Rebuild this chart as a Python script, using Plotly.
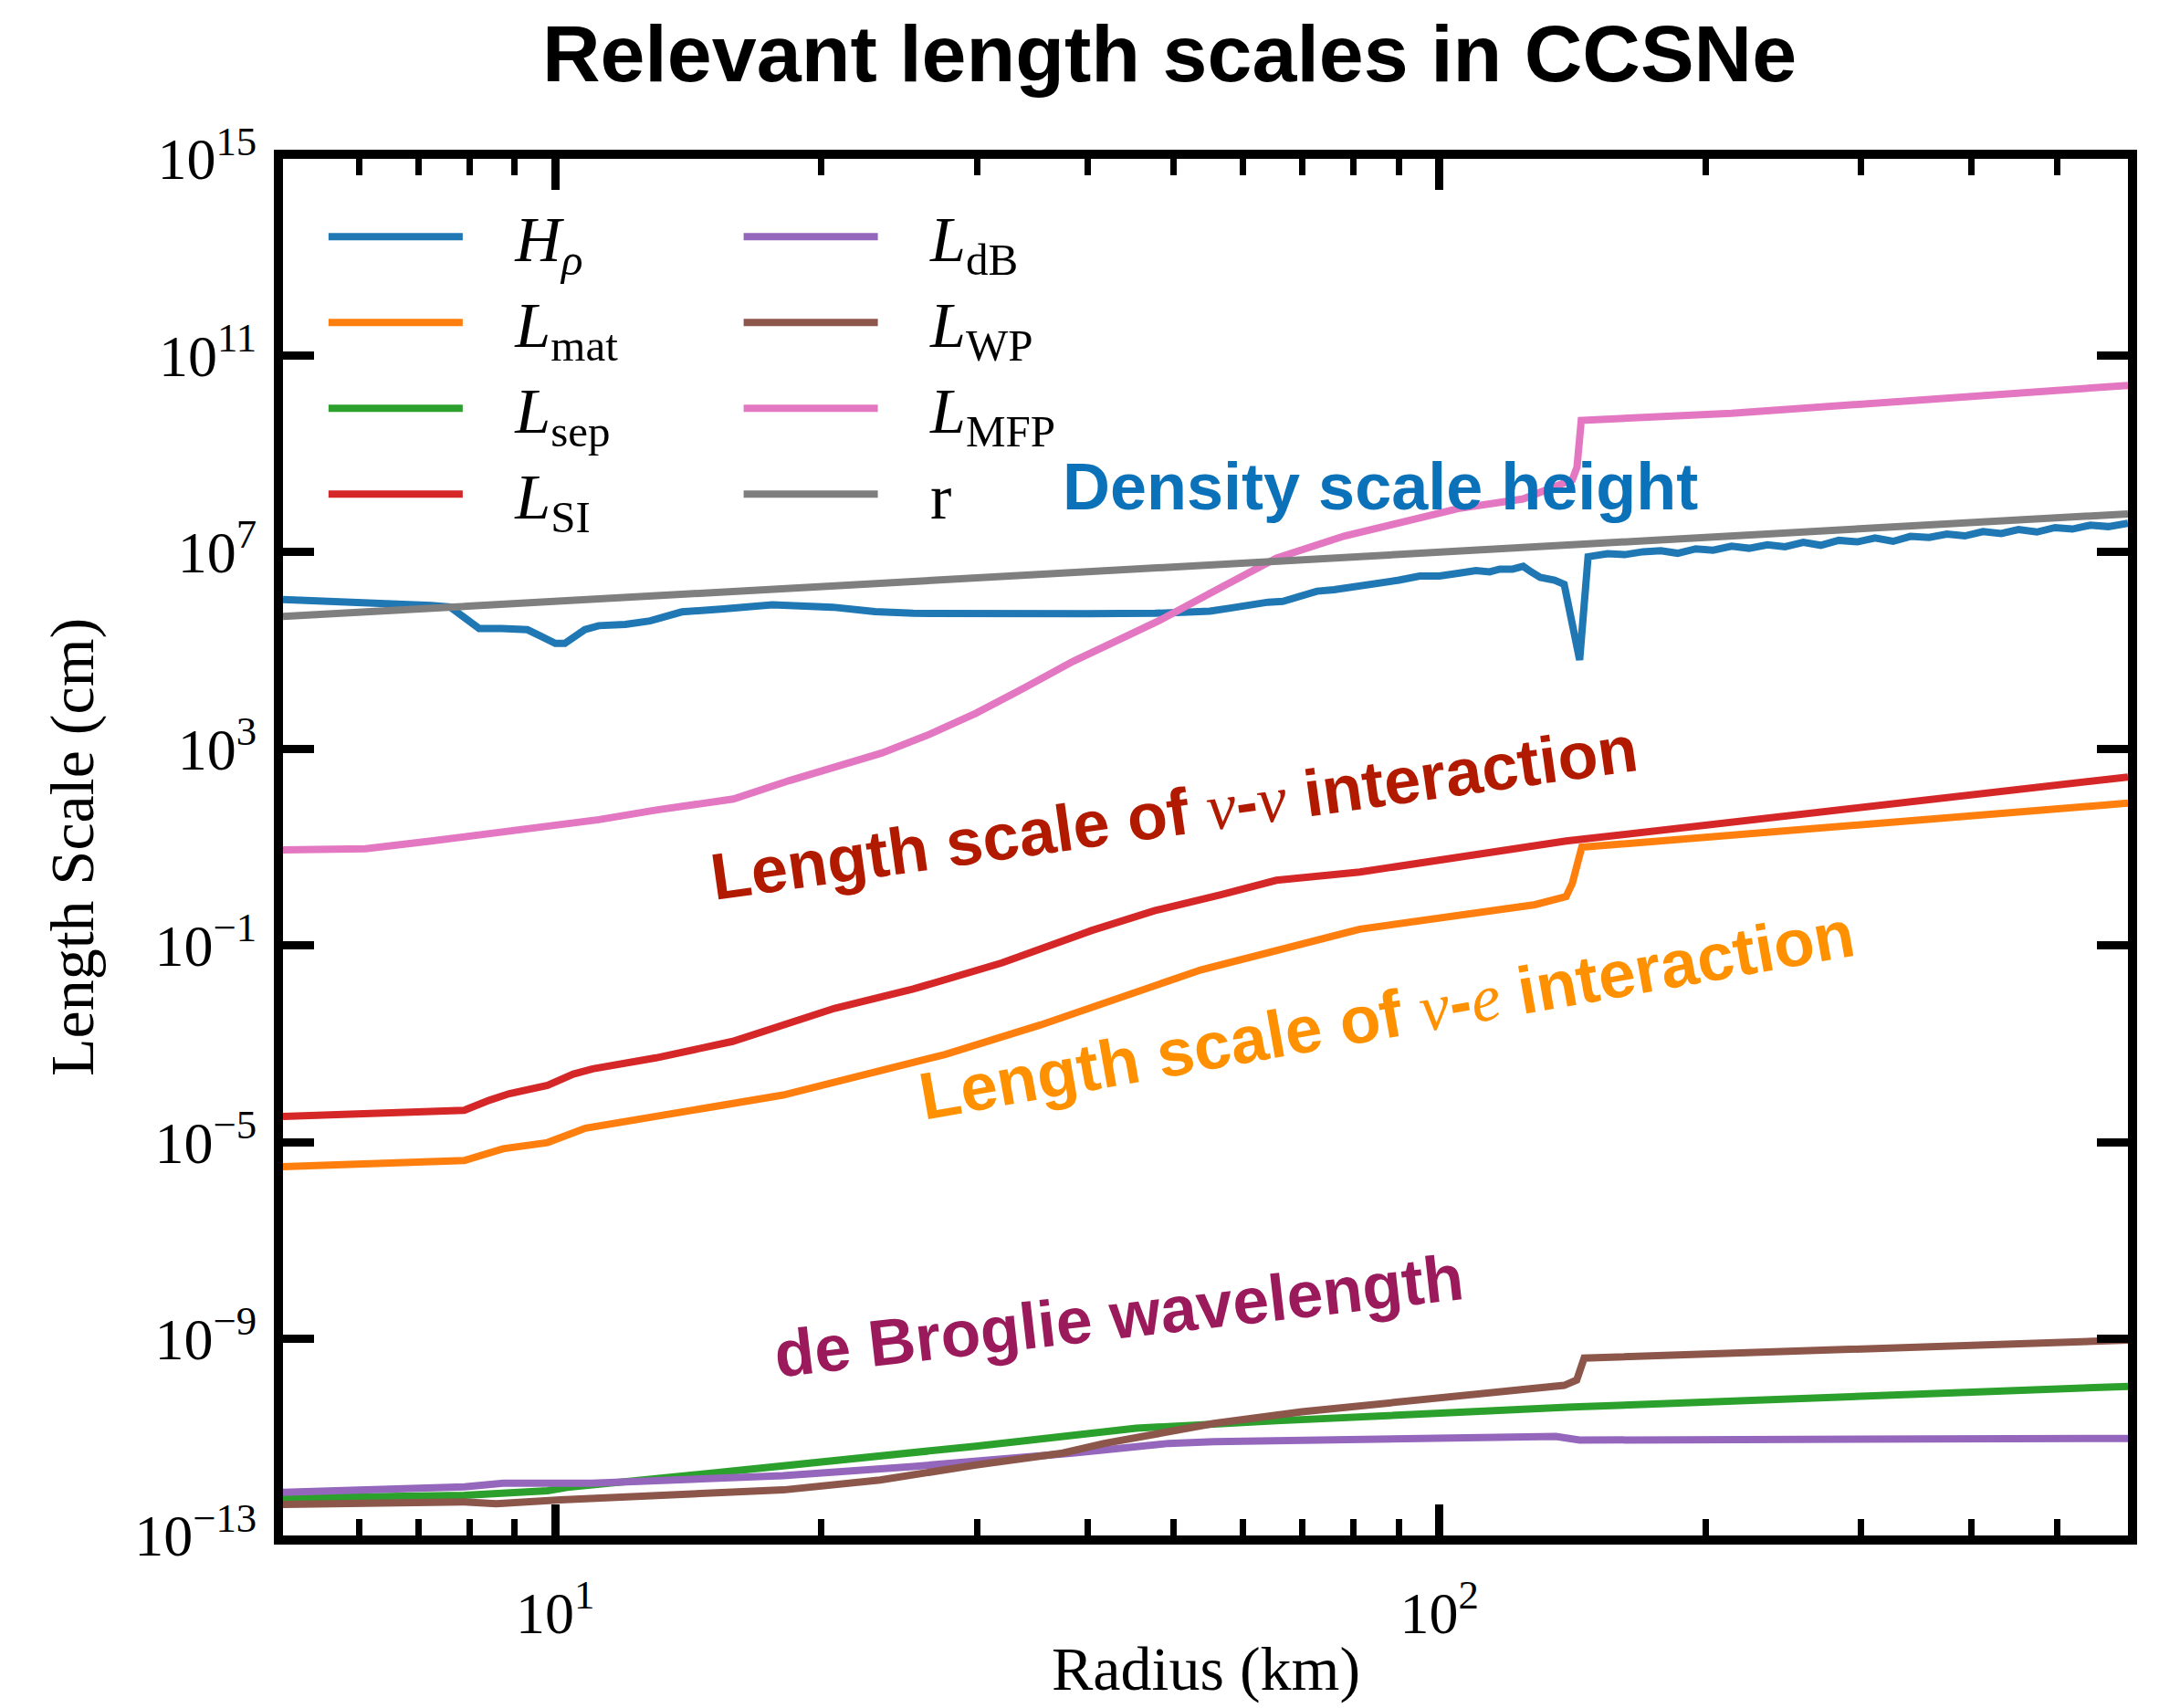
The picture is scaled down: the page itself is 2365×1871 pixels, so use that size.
import plotly.graph_objects as go
import math

# ---------------- data (radius in km, length scales in cm) ----------------
H_rho_r = [4.92, 6.1, 7.24, 7.6, 8.2, 8.7, 9.3, 9.65, 10.0, 10.25, 10.8, 11.2, 12.0, 12.8, 13.9,
           15.5, 17.6, 20.6, 23.0, 25.4, 30.0, 40.0, 47.7, 52.0, 55.0, 58.0, 61.6, 64.0, 66.5,
           69.0, 72.7, 76.0, 80.0, 83.0, 86.0, 90.0, 95.0, 100.0, 105.0, 110.0, 114.0, 117.0,
           121.0, 124.4, 127.0, 130.0, 135.0, 138.4, 144.1, 147.3,
           155, 162, 170, 178, 186, 195, 204, 214, 224, 235, 246, 258, 270, 283, 297, 311,
           326, 341, 358, 375, 393, 412, 432, 452, 474, 497, 520, 545, 571, 601]
H_rho = [1.09e6, 9.6e5, 8.2e5, 7.7e5, 2.8e5, 2.8e5, 2.65e5, 1.92e5, 1.39e5, 1.39e5, 2.65e5, 3.2e5,
         3.4e5, 4.0e5, 6.1e5, 7.0e5, 8.5e5, 7.6e5, 6.2e5, 5.7e5, 5.5e5, 5.6e5, 5.7e5, 6.0e5,
         6.3e5, 7.3e5, 9.0e5, 9.6e5, 1.0e6, 1.24e6, 1.61e6, 1.72e6, 1.95e6, 2.22e6, 2.53e6,
         2.7e6, 3.27e6, 3.27e6, 3.72e6, 4.24e6, 3.97e6, 4.52e6, 4.52e6, 5.14e6, 3.97e6, 3.07e6,
         2.7e6, 2.22e6, 6.4e4, 8.07e6,
         9.3e6, 8.9e6, 1.02e7, 1.07e7, 9.5e6, 1.17e7, 1.10e7, 1.32e7, 1.20e7, 1.41e7, 1.29e7,
         1.58e7, 1.38e7, 1.74e7, 1.62e7, 1.95e7, 1.66e7, 2.09e7, 2.0e7, 2.34e7, 2.14e7, 2.63e7,
         2.4e7, 2.88e7, 2.57e7, 3.16e7, 2.95e7, 3.55e7, 3.31e7, 3.89e7]

L_mat_r = [4.92, 7.89, 8.73, 9.80, 10.82, 18.1, 27.6, 35.4, 53.8, 81.3, 128.3, 139.1, 141.4, 144.9, 601]
L_mat = [3.17e-6, 4.24e-6, 7.34e-6, 9.81e-6, 1.93e-5, 9.07e-5, 6.08e-4, 2.43e-3, 3.21e-2, 0.215,
         0.677, 0.99, 1.86, 9.96, 78.4]

L_sep_r = [4.92, 7.89, 9.80, 10.31, 15.38, 21.5, 29.9, 45.4, 55.6, 65.4, 141.4, 601]
L_sep = [5.77e-13, 6.57e-13, 8.12e-13, 9.48e-13, 1.93e-12, 3.44e-12, 6.56e-12, 1.52e-11, 1.90e-11,
         2.15e-11, 4.09e-11, 1.08e-10]

L_SI_r = [4.92, 7.89, 8.43, 8.87, 9.80, 10.48, 11.02, 13.0, 15.87, 18.1, 20.7, 25.4, 32.0, 40.4,
          47.7, 56.6, 65.4, 81.3, 100.0, 139.1, 601]
L_SI = [3.32e-5, 4.46e-5, 7.15e-5, 9.68e-5, 1.43e-4, 2.42e-4, 3.09e-4, 5.18e-4, 1.12e-3, 2.43e-3,
        5.27e-3, 1.30e-2, 4.43e-2, 0.201, 0.513, 1.08, 2.12, 3.12, 5.43, 13.3, 267]

L_dB_r = [4.92, 7.89, 8.73, 11.0, 18.1, 25.4, 38.5, 49.4, 55.6, 65.4, 135.4, 144.1, 601]
L_dB = [7.52e-13, 9.73e-13, 1.15e-12, 1.15e-12, 1.65e-12, 2.53e-12, 4.75e-12, 7.46e-12, 8.11e-12,
        8.49e-12, 1.03e-11, 8.71e-12, 9.41e-12]

L_WP_r = [4.92, 7.89, 8.57, 10.13, 18.1, 23.3, 29.9, 37.5, 41.8, 55.6, 69.9, 138.4, 143.0, 145.8, 601]
L_WP = [4.26e-13, 4.82e-13, 4.43e-13, 5.31e-13, 8.44e-13, 1.34e-12, 2.71e-12, 4.75e-12, 7.46e-12,
        1.90e-11, 3.29e-11, 1.13e-10, 1.45e-10, 4.06e-10, 9.40e-10]

L_MFP_r = [4.92, 6.1, 7.24, 9.96, 10.2, 11.2, 13.0, 15.9, 18.4, 20.8, 23.4, 26.5, 29.9, 34.0, 38.5,
           43.0, 48.0, 56.0, 65.4, 78.0, 89.4, 105.0, 124.4, 133.0, 141.4, 143.1, 144.7, 214.0, 601]
L_MFP = [8.75, 9.3, 13.3, 28.9, 29.4, 36.2, 56.8, 95.2, 226, 420, 820, 1.97e3, 5.28e3, 1.77e4, 6.0e4,
         1.53e5, 3.9e5, 1.72e6, 7.57e6, 2.12e7, 3.85e7, 7.71e7, 1.21e8, 1.90e8, 2.99e8, 5.34e8,
         4.78e9, 6.68e9, 2.47e10]

r_line_r = [4.92, 601]
r_line = [4.92e5, 6.01e7]

y_tick_vals = [1e-13, 1e-9, 1e-5, 1e-1, 1e3, 1e7, 1e11, 1e15]
y_tick_text = ["10<sup>−13</sup>", "10<sup>−9</sup>", "10<sup>−5</sup>", "10<sup>−1</sup>",
               "10<sup>3</sup>", "10<sup>7</sup>", "10<sup>11</sup>", "10<sup>15</sup>"]
x_tick_vals = [10, 100]
x_tick_text = ["10<sup>1</sup>", "10<sup>2</sup>"]
x_minor_vals = [6, 7, 8, 9, 20, 30, 40, 50, 60, 70, 80, 90, 200, 300, 400, 500]

# ---------------- styling ----------------
SERIF = "Liberation Serif"
SANS = "Liberation Sans"
W, H = 2365, 1871
ML, MR, MT, MB = 302, 42, 166, 197
GAP = "\u2002\u00a0"

series = [
    ("<i>H</i><sub><i>ρ</i></sub>", H_rho_r, H_rho, "#1f77b4", "legend"),
    ("<i>L</i><sub>mat</sub>", L_mat_r, L_mat, "#ff7f0e", "legend"),
    ("<i>L</i><sub>sep</sub>", L_sep_r, L_sep, "#2ca02c", "legend"),
    ("<i>L</i><sub>SI</sub>", L_SI_r, L_SI, "#d62728", "legend"),
    ("<i>L</i><sub>dB</sub>", L_dB_r, L_dB, "#9467bd", "legend2"),
    ("<i>L</i><sub>WP</sub>", L_WP_r, L_WP, "#8c564b", "legend2"),
    ("<i>L</i><sub>MFP</sub>", L_MFP_r, L_MFP, "#e377c2", "legend2"),
    ("r", r_line_r, r_line, "#7f7f7f", "legend2"),
]

fig = go.Figure()
for i, (name, xs, ys, col, lg) in enumerate(series):
    fig.add_trace(go.Scatter(x=xs, y=ys, mode="lines", name=GAP + name, legend=lg,
                             legendgroup=f"g{i}",
                             line=dict(color=col, width=8)))

axis_common = dict(
    showline=True, linecolor="black", linewidth=10, mirror="ticks",
    ticks="inside", tickcolor="black", ticklen=34, tickwidth=9,
    showgrid=False, zeroline=False,
    tickfont=dict(family=SERIF, size=64, color="black"),
)

fig.update_xaxes(type="log", range=[math.log10(4.92), math.log10(601)],
                 tickmode="array", tickvals=x_tick_vals, ticktext=x_tick_text,
                 ticklabelstandoff=20,
                 minor=dict(ticks="inside", ticklen=18, tickwidth=7, tickcolor="black",
                            tickmode="array", tickvals=x_minor_vals, showgrid=False),
                 **axis_common)
fig.update_yaxes(type="log", range=[-13, 15],
                 tickmode="array", tickvals=y_tick_vals, ticktext=y_tick_text,
                 ticklabelstandoff=6,
                 **axis_common)

legend_common = dict(font=dict(family=SERIF, size=70, color="black"),
                     bgcolor="rgba(0,0,0,0)", borderwidth=0, itemwidth=147,
                     tracegroupgap=0, xanchor="left", yanchor="top",
                     itemclick=False)
fig.update_layout(
    legend=dict(x=0.0222, y=0.978, **legend_common),
    legend2=dict(x=0.2472, y=0.978, **legend_common),
)

def ann(text, x, y, color, angle, size=70):
    fig.add_annotation(text=text, x=x, y=y, xref="paper", yref="paper",
                       xanchor="center", yanchor="middle", showarrow=False,
                       textangle=angle,
                       font=dict(family=SANS, size=size, color=color))

nu = "<span style='font-family:Liberation Serif'><i>ν</i></span>"
ee = "<span style='font-family:Liberation Serif'><i>e</i></span>"
ann("<b>Density scale height</b>", 0.595, 0.762, "#0b72b9", 0, 72)
ann(f"<b>Length scale of </b>{nu}<b>-</b>{nu}<b> interaction</b>", 0.483, 0.525, "#b21a00", -8, 72)
ann(f"<b>Length scale of </b>{nu}<b>-</b>{ee}<b> interaction</b>", 0.598, 0.378, "#ff9100", -10, 73)
ann("<b>de Broglie wavelength</b>", 0.453, 0.16, "#9a1a5c", -6.5, 71.5)

# axis titles as annotations for exact placement
fig.add_annotation(text="Radius (km)", x=0.5, y=-(1820 - (H - MB)) / (H - MT - MB),
                   xref="paper", yref="paper", xanchor="center", yanchor="middle",
                   showarrow=False, font=dict(family=SERIF, size=68, color="black"))
fig.add_annotation(text="Length Scale (cm)", x=-(ML - 71) / (W - ML - MR), y=0.5,
                   xref="paper", yref="paper", xanchor="center", yanchor="middle",
                   showarrow=False, textangle=-90,
                   font=dict(family=SERIF, size=68, color="black"))

fig.update_layout(
    width=W, height=H,
    margin=dict(l=ML, r=MR, t=MT, b=MB),
    paper_bgcolor="white", plot_bgcolor="white",
    title=dict(text="<b>Relevant length scales in CCSNe</b>", x=1273 / W,
               xanchor="center", y=1 - 50 / H, yanchor="middle", yref="container",
               font=dict(family=SANS, size=88, color="black")),
)

fig.write_html("out.html")
